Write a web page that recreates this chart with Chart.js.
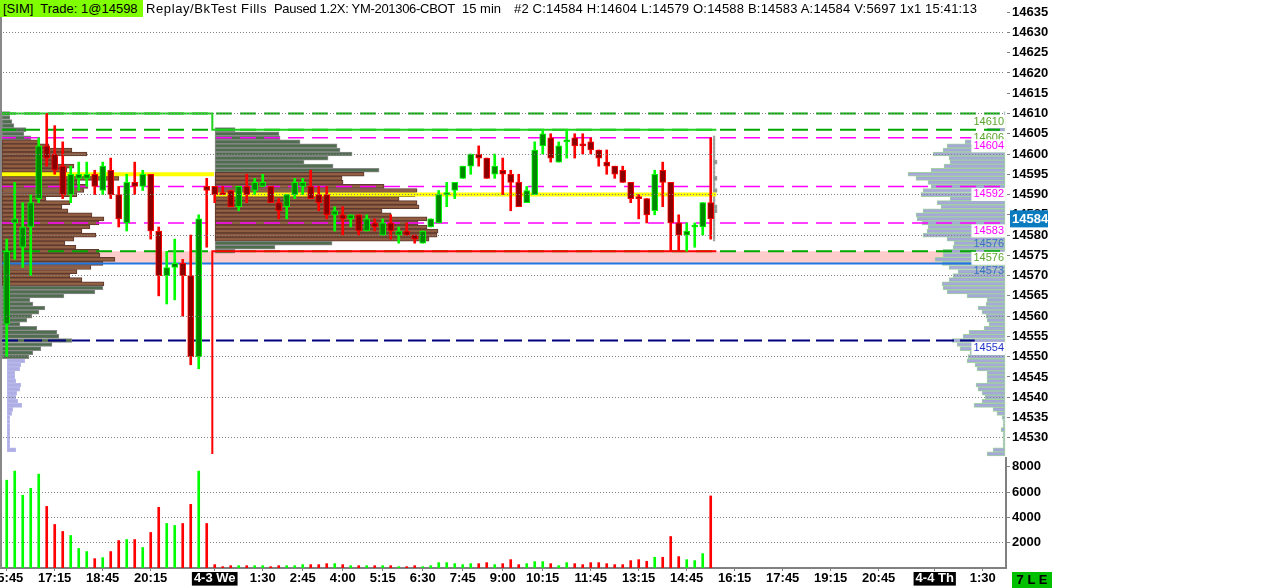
<!DOCTYPE html>
<html>
<head>
<meta charset="utf-8">
<title>YM-201306-CBOT 15 min</title>
<script src="https://cdn.jsdelivr.net/npm/chart.js@4.4.1/dist/chart.umd.min.js"></script>
<style>
  html, body { margin: 0; padding: 0; background: #fff; overflow: hidden; }
  #wrap { position: relative; width: 1276px; height: 588px; }
  #chart { position: absolute; left: 0; top: 0; }
  .hdr { position: absolute; top: 0; height: 17px; line-height: 17px; white-space: pre; color: #000; font-size: 13px; font-family: "Liberation Sans", Arial, sans-serif; }
  #sim { left: 0; width: 140px; padding-left: 3px; background: #80ff00; }
  #state { position: absolute; left: 1012px; top: 572px; width: 40px; height: 16px; line-height: 16px; background: #00c000; color: #000; font: bold 13px "Liberation Sans", Arial, sans-serif; text-align: center; white-space: pre; }
</style>
</head>
<body>
<div id="wrap">
  <canvas id="chart" width="1276" height="588"></canvas>
  <div class="hdr" id="sim">[SIM]  Trade: 1@14598</div>
  <div class="hdr" style="left:146px;letter-spacing:0.6px">Replay/BkTest Fills</div>
  <div class="hdr" style="left:274px;letter-spacing:-0.3px">Paused 1.2X: YM-201306-CBOT</div>
  <div class="hdr" style="left:462px">15 min</div>
  <div class="hdr" style="left:514px;letter-spacing:0.18px">#2 C:14584 H:14604 L:14579 O:14588 B:14583 A:14584 V:5697 1x1 15:41:13</div>
  <div id="state">7 L E</div>
</div>
<script>
// 15 min bars
const candleOpen = [14558,14583,14577,14582,14589,14602,14600,14597,14590,14594,14594,14595,14591,14596,14590,14583,14593,14592,14595,14581,14570,14572,14573,14570,14550,14592,
  14592,14590.4,14591,14587,14592,14591,14592,14592,14588,14587,14590,14592,14592,14590,14590,14585,14585,14584,14585,14581,14583,14580,14583,14580,14581,14580,14578,14582,
  14583,14590,14591,14594,14597,14600,14599,14595,14596,14595,14593,14588,14590,14602,14604,14598,14603,14604,14602.4,14603,14601,14598,14597,14596,14593,14589.4,14589,14586,14596,14593,14583,14580,14582,14582,14588];
const candleHigh = [14579,14593,14588,14590,14604,14610,14607,14603,14597,14598,14598,14596,14598,14599,14592,14595,14598,14596,14595,14582,14576,14579,14574,14580,14585,14594,
  14592,14592,14591,14592,14595,14594,14595,14592,14589,14590,14594,14594,14596,14592,14592,14587,14587,14585,14585,14585,14584,14584,14585,14582,14583,14580,14581,14584,
  14591,14593,14593,14597,14600,14602,14599,14600,14599,14596,14595,14592,14603,14606,14605,14603,14606,14605,14605,14604,14601,14601,14597,14597,14593,14590,14589,14596,14598,14593,14585,14583,14583,14588,14604];
const candleLow = [14550,14574,14572,14570,14588,14597,14595,14589,14588,14591,14592,14590,14590,14589,14582,14581,14590,14591,14579,14565,14563,14564,14560,14548,14547,14577,
  14588,14590,14587,14586,14588,14590,14592,14588,14584,14584,14589,14590,14589,14586,14584,14581,14580,14582,14580,14581,14581,14580,14579,14578,14580,14578,14578,14582,
  14583,14587,14589,14594,14595,14597,14594,14594,14590,14586,14587,14588,14590,14600,14598,14598,14599,14599,14600,14600,14597,14595,14594,14593,14588,14584,14583,14585,14587,14576,14576,14576,14577,14580,14579];
const candleClose = [14576,14584,14582,14588,14602,14599,14596,14590,14595,14595,14595,14592,14597,14590,14584,14593,14592,14595,14581,14570,14572,14573,14570,14550,14584,14591,
  14590,14590,14587,14592,14590,14593,14593,14588,14586,14590,14593,14593,14589,14588,14585,14586,14584,14585,14581,14584,14582,14583,14581,14581,14580,14579,14581,14584,
  14590,14590.4,14593,14597,14600,14599,14594,14597,14595,14593,14587,14591,14601,14605,14599,14602,14603.4,14602,14602,14601,14599,14597,14595,14593,14589,14589,14585,14595,14593,14583,14580,14581,14582.4,14588,14584];
const volume = [6940,7660,5750,6300,7420,4870,3440,2890,2570,1540,1300,740,820,1300,2170,2250,2250,1620,2810,4800,3520,3360,3520,5030,7660,3520,
  265,106,185,185,185,185,185,106,185,185,185,265,265,265,344,344,265,185,185,185,185,185,185,106,106,185,106,185,
  424,424,344,265,344,344,424,265,344,662,265,344,503,503,344,185,424,344,265,424,424,344,265,265,583,662,530,848,848,2490,900,660,583,1140,5697];

// time axis
const xTickIdx = [0, 6, 12, 18, 26, 32, 37, 42, 47, 52, 57, 62, 67, 73, 79, 85, 91, 97, 103, 109, 116, 122];
const xTickText = ['15:45','17:15','18:45','20:15','4-3 We','1:30','2:45','4:00','5:15','6:30','7:45','9:00','10:15','11:45','13:15','14:45','16:15','17:45','19:15','20:45','4-4 Th','1:30'];
const dayLabels = ['4-3 We', '4-4 Th'];

// price / volume axes
const priceTicks = [14530,14535,14540,14545,14550,14555,14560,14565,14570,14575,14580,14585,14590,14595,14600,14605,14610,14615,14620,14625,14630,14635];
const volTicks = [2000, 4000, 6000, 8000];

// volume profiles: size per 1-point row, top row first
const prof1Top = 14610;
const prof1Size = [8,8,10,12,24,22,29,37,47,70, 85,55,50,72,65,70,117,75,86,82, 75,44,68,60,66,90,102,97,88,80,
  94,72,63,74,97,98,113,101,89,75, 68,80,102,101,93,62,28,31,43,37, 30,25,18,35,55,57,70,50,39,31, 27];
const prof1VA = [14568, 14603];
const prof1bTop = 14549;
const prof1bSize = [18,14,13,8,8,9,14,13,10,9, 11,15,6,5,3,3,3,3,3,3, 3,3,9];
const prof2Top = 14606;
const prof2Size = [20,64,65,85,122,125,137,113,89,118, 164,149,127,128,169,202,200,184,202,204, 167,176,212,203,212,223,222,214,117,60,20];
const prof2VA = [14579, 14595];
const prof3Top = 14610;
const prof3Size = [1,2,3,10,18,22,30,40,58,62, 72,56,55,61,74,97,89,77,74,82, 84,55,68,64,82,89,88,83,77,78,
  82,58,51,52,62,62,70,63,56,47, 52,56,63,62,58,38,18,19,27,23, 19,18,16,21,36,42,53,48,45,35,
  37,38,30,28,18,18,18,29,27,23, 20,23,31,12,8,3,2,2,4,2, 2,2,2,12,18];
const prof4Top = 14604;
const prof4Size = [2,2,2,2,2,2,4,2,2,2, 4,2,2,4,2,2,2,4,4,2, 2,2,2,2,2,2];

// reference levels
const greenLevels = [14610, 14606];
const magentaLevels = [14604, 14592, 14583];
const greenLow = 14576;
const blueLevel = 14573;
const navyLevel = 14554;
const pocLevels = [14595, 14590];
const overnightLow = 14576;
const priorLow = 14526;
const tagLevels = [14606, 14610, 14604, 14592, 14583, 14576, 14576, 14573, 14554];

// ---- layout (bar-index units on x) ----
const X_MIN = -0.84, X_MAX = 124.91;
const SESSION_BREAK = 25.7, SESSION_END = 88.7, RIGHT_EDGE = 124.79, LINE_END = 121;
const PROF1_START = -0.6, PROF1B_START = 0.0, PROF2_START = 26.04, PROF4_START = 88.3;
const PX = 8; // profile units per bar slot

const FAMILY = '"Liberation Sans", Arial, sans-serif';
const TICK_SIZE = 13;
const TAG_FONT = '11px "Liberation Sans", Arial, sans-serif';

const GREEN = '#00ff00', GREEN_FILL = '#008800', RED = '#ff0000', RED_FILL = '#880000';
const idx = candleOpen.map((_, i) => i);
const up = idx.map(i => candleClose[i] > candleOpen[i]);

function hline(v, x0, x1, color, width, dash, order) {
  return { type: 'line', data: [{ x: x0, y: v }, { x: x1, y: v }], borderColor: color, borderWidth: width,
    borderDash: dash || [], borderCapStyle: 'butt', pointRadius: 0, fill: false, order, xAxisID: 'x', yAxisID: 'y' };
}
function profile(top, sizes, start, dir, fillFn, borderFn, order) {
  const rows = sizes.map((s, k) => ({ y: top - k, x: dir > 0 ? [start, start + s / PX] : [start - s / PX, start] }));
  return { type: 'bar', indexAxis: 'y', data: rows, xAxisID: 'x', yAxisID: 'y', grouped: false,
    barThickness: 4, borderWidth: 1, borderSkipped: false,
    backgroundColor: rows.map(r => fillFn(r.y)), borderColor: rows.map(r => borderFn(r.y)), order };
}
const inVA = (p, va) => p >= va[0] && p <= va[1];

const datasets = [
  // candle bodies
  { type: 'bar', data: idx.map(i => ({ x: i, y: [candleOpen[i], candleClose[i]] })), xAxisID: 'x', yAxisID: 'y',
    grouped: false, barThickness: 6, minBarLength: 2, borderWidth: 1, borderSkipped: false,
    backgroundColor: up.map(u => u ? GREEN_FILL : RED_FILL), borderColor: up.map(u => u ? GREEN : RED), order: 1 },
  // wicks
  { type: 'bar', data: idx.map(i => ({ x: i, y: [candleLow[i], candleHigh[i]] })), xAxisID: 'x', yAxisID: 'y',
    grouped: false, barThickness: 2, borderWidth: 0, backgroundColor: up.map(u => u ? GREEN : RED), order: 2 },
  // volume
  { type: 'bar', data: idx.map(i => ({ x: i, y: volume[i] })), xAxisID: 'x', yAxisID: 'yVol',
    grouped: false, barThickness: 2, borderWidth: 0, backgroundColor: up.map(u => u ? GREEN : RED), order: 3 },
  // session step lines
  { type: 'line', data: [{ x: X_MIN, y: greenLevels[0] }, { x: SESSION_BREAK, y: greenLevels[0] }, { x: SESSION_BREAK, y: greenLevels[1] }, { x: SESSION_END, y: greenLevels[1] }],
    borderColor: '#1fd21f', borderWidth: 2, pointRadius: 0, fill: false, order: 30, xAxisID: 'x', yAxisID: 'y' },
  { type: 'line', data: [{ x: SESSION_BREAK, y: priorLow }, { x: SESSION_BREAK, y: overnightLow }, { x: SESSION_END, y: overnightLow }],
    borderColor: '#ff0000', borderWidth: 2, pointRadius: 0, fill: false, order: 31, xAxisID: 'x', yAxisID: 'y' },
  hline(pocLevels[0], X_MIN, SESSION_BREAK + 0.2, '#ffff00', 4, null, 40),
  hline(pocLevels[1], SESSION_BREAK + 0.2, SESSION_END, '#ffff00', 4, null, 40),
  // dashed levels
  ...greenLevels.map(v => hline(v, X_MIN, X_MAX, '#00a800', 2, [16, 8], 50)),
  ...magentaLevels.map(v => hline(v, X_MIN, X_MAX, '#ff00ff', 1.5, [16, 8], 50)),
  hline(greenLow, X_MIN, X_MAX, '#00a800', 2, [16, 8], 50),
  hline(blueLevel, X_MIN, LINE_END, '#1e78e0', 2, null, 50),
  hline(navyLevel, X_MIN, LINE_END, '#000080', 2, [18, 6], 50),
  // profiles
  profile(prof1Top, prof1Size, PROF1_START, 1,
    p => inVA(p, prof1VA) ? 'rgba(140,90,60,0.95)' : '#4f6d4f',
    p => inVA(p, prof1VA) ? '#5e3a30' : '#8a8a8a', 90),
  profile(prof1bTop, prof1bSize, PROF1B_START, 1, () => '#aeaee4', () => '#b8b8ea', 90),
  profile(prof2Top, prof2Size, PROF2_START, 1,
    p => inVA(p, prof2VA) ? 'rgba(140,90,60,0.95)' : '#4f6d4f',
    p => inVA(p, prof2VA) ? '#5e3a30' : '#8a8a8a', 90),
  profile(prof3Top, prof3Size, RIGHT_EDGE, -1, () => 'rgba(160,160,215,0.9)', () => '#a3d3a3', 90),
  profile(prof4Top, prof4Size, PROF4_START, 1, () => '#8a968a', () => '#a0a0a0', 90),
  // pink band
  { type: 'line', data: [{ x: X_MIN, y: greenLow }, { x: LINE_END, y: greenLow }], fill: { value: blueLevel },
    backgroundColor: '#ffcccc', borderWidth: 0, pointRadius: 0, order: 100, xAxisID: 'x', yAxisID: 'y' }
];

const tagStyle = [
  { color: '#5aa52a', bg: true, dy: 8 }, { color: '#5aa52a', bg: true, dy: 8 },
  { color: '#ff00ff', bg: true, dy: 8 }, { color: '#ff00ff', bg: true, dy: 8 }, { color: '#ff00ff', bg: true, dy: 8 },
  { color: '#3a70c0', bg: false, dy: -7 }, { color: '#5aa52a', bg: true, dy: 7 },
  { color: '#3a70c0', bg: false, dy: 8 }, { color: '#2233cc', bg: true, dy: 8 }
];

const overlay = {
  id: 'overlay',
  afterDraw(chart) {
    const { ctx, chartArea: a, scales: { y } } = chart;
    ctx.save();
    ctx.strokeStyle = '#888'; ctx.lineWidth = 2;
    ctx.beginPath(); ctx.moveTo(a.left + 1, a.top); ctx.lineTo(a.left + 1, a.bottom); ctx.stroke();
    ctx.font = TAG_FONT; ctx.textAlign = 'right'; ctx.textBaseline = 'middle';
    tagLevels.forEach((v, k) => {
      const st = tagStyle[k];
      const py = y.getPixelForValue(v) + st.dy;
      const txt = String(v);
      const w = ctx.measureText(txt).width;
      if (st.bg) { ctx.fillStyle = '#fff'; ctx.fillRect(a.right - w - 4, py - 6.5, w + 3, 13); }
      ctx.fillStyle = st.color; ctx.fillText(txt, a.right - 2, py);
    });
    const last = candleClose[candleClose.length - 1];
    const py = y.getPixelForValue(last);
    ctx.fillStyle = '#0b7bc0'; ctx.fillRect(a.right + 4, py - 8.5, 38, 17);
    ctx.fillStyle = '#fff'; ctx.textAlign = 'left';
    ctx.font = 'bold ' + TICK_SIZE + 'px ' + FAMILY;
    ctx.fillText(String(last), a.right + 6, py + 0.5);
    ctx.restore();
  }
};

const tickFont = { family: FAMILY, size: TICK_SIZE, weight: 'bold' };
const isDay = ctx => dayLabels.includes(xTickText[ctx.index]);
function fitV(s, w) {
  s.width = w; s.paddingTop = 0; s.paddingBottom = 0;
  if (s._margins) { s._margins.top = 0; s._margins.bottom = 0; }
}

new Chart(document.getElementById('chart'), {
  type: 'bar',
  data: { datasets },
  options: {
    responsive: false, animation: false, devicePixelRatio: 1, events: [],
    layout: { padding: 0 },
    plugins: { legend: { display: false }, tooltip: { enabled: false } },
    scales: {
      x: {
        type: 'linear', min: X_MIN, max: X_MAX, offset: false,
        afterBuildTicks: s => { s.ticks = xTickIdx.map(v => ({ value: v })); },
        afterFit: s => { s.height = 20; s.paddingLeft = 0; s.paddingRight = 0; if (s._margins) { s._margins.left = 0; s._margins.right = 0; } },
        ticks: {
          autoSkip: false, maxRotation: 0, minRotation: 0, padding: 0, font: tickFont,
          callback: (v, i) => xTickText[i],
          color: ctx => isDay(ctx) ? '#fff' : '#000',
          showLabelBackdrop: ctx => isDay(ctx), backdropColor: '#000',
          backdropPadding: { top: -1, bottom: -1, left: 2, right: 2 }
        },
        grid: { offset: false, drawOnChartArea: false, drawTicks: true, tickLength: 3, color: '#808080' },
        border: { color: '#808080', width: 2 }
      },
      y: {
        type: 'linear', position: 'right', stack: 'main', stackWeight: 458, min: 14525, max: 14638, offset: false,
        afterBuildTicks: s => { s.ticks = priceTicks.map(v => ({ value: v })); },
        afterFit: s => fitV(s, 270),
        ticks: { color: '#000', font: tickFont, padding: 2, autoSkip: false, callback: v => String(v) },
        grid: { z: 1, offset: false, color: ctx => ctx.tick && ctx.tick.value % 10 === 0 ? '#808080' : 'rgba(0,0,0,0)',
          tickColor: '#808080', tickLength: 4, lineWidth: 1 },
        border: { color: '#808080', width: 2, dash: [1, 2] }
      },
      yVol: {
        type: 'linear', position: 'right', stack: 'main', stackWeight: 110, min: 0, max: 8696, offset: false,
        afterBuildTicks: s => { s.ticks = volTicks.map(v => ({ value: v })); },
        afterFit: s => fitV(s, 270),
        ticks: { color: '#000', font: tickFont, padding: 2, autoSkip: false, callback: v => String(v) },
        grid: { offset: false, color: ctx => ctx.tick && ctx.tick.value < 8000 ? '#808080' : 'rgba(0,0,0,0)',
          tickColor: '#808080', tickLength: 4, lineWidth: 1 },
        border: { color: '#808080', width: 2, dash: [1, 2] }
      }
    }
  },
  plugins: [overlay]
});
</script>
</body>
</html>
